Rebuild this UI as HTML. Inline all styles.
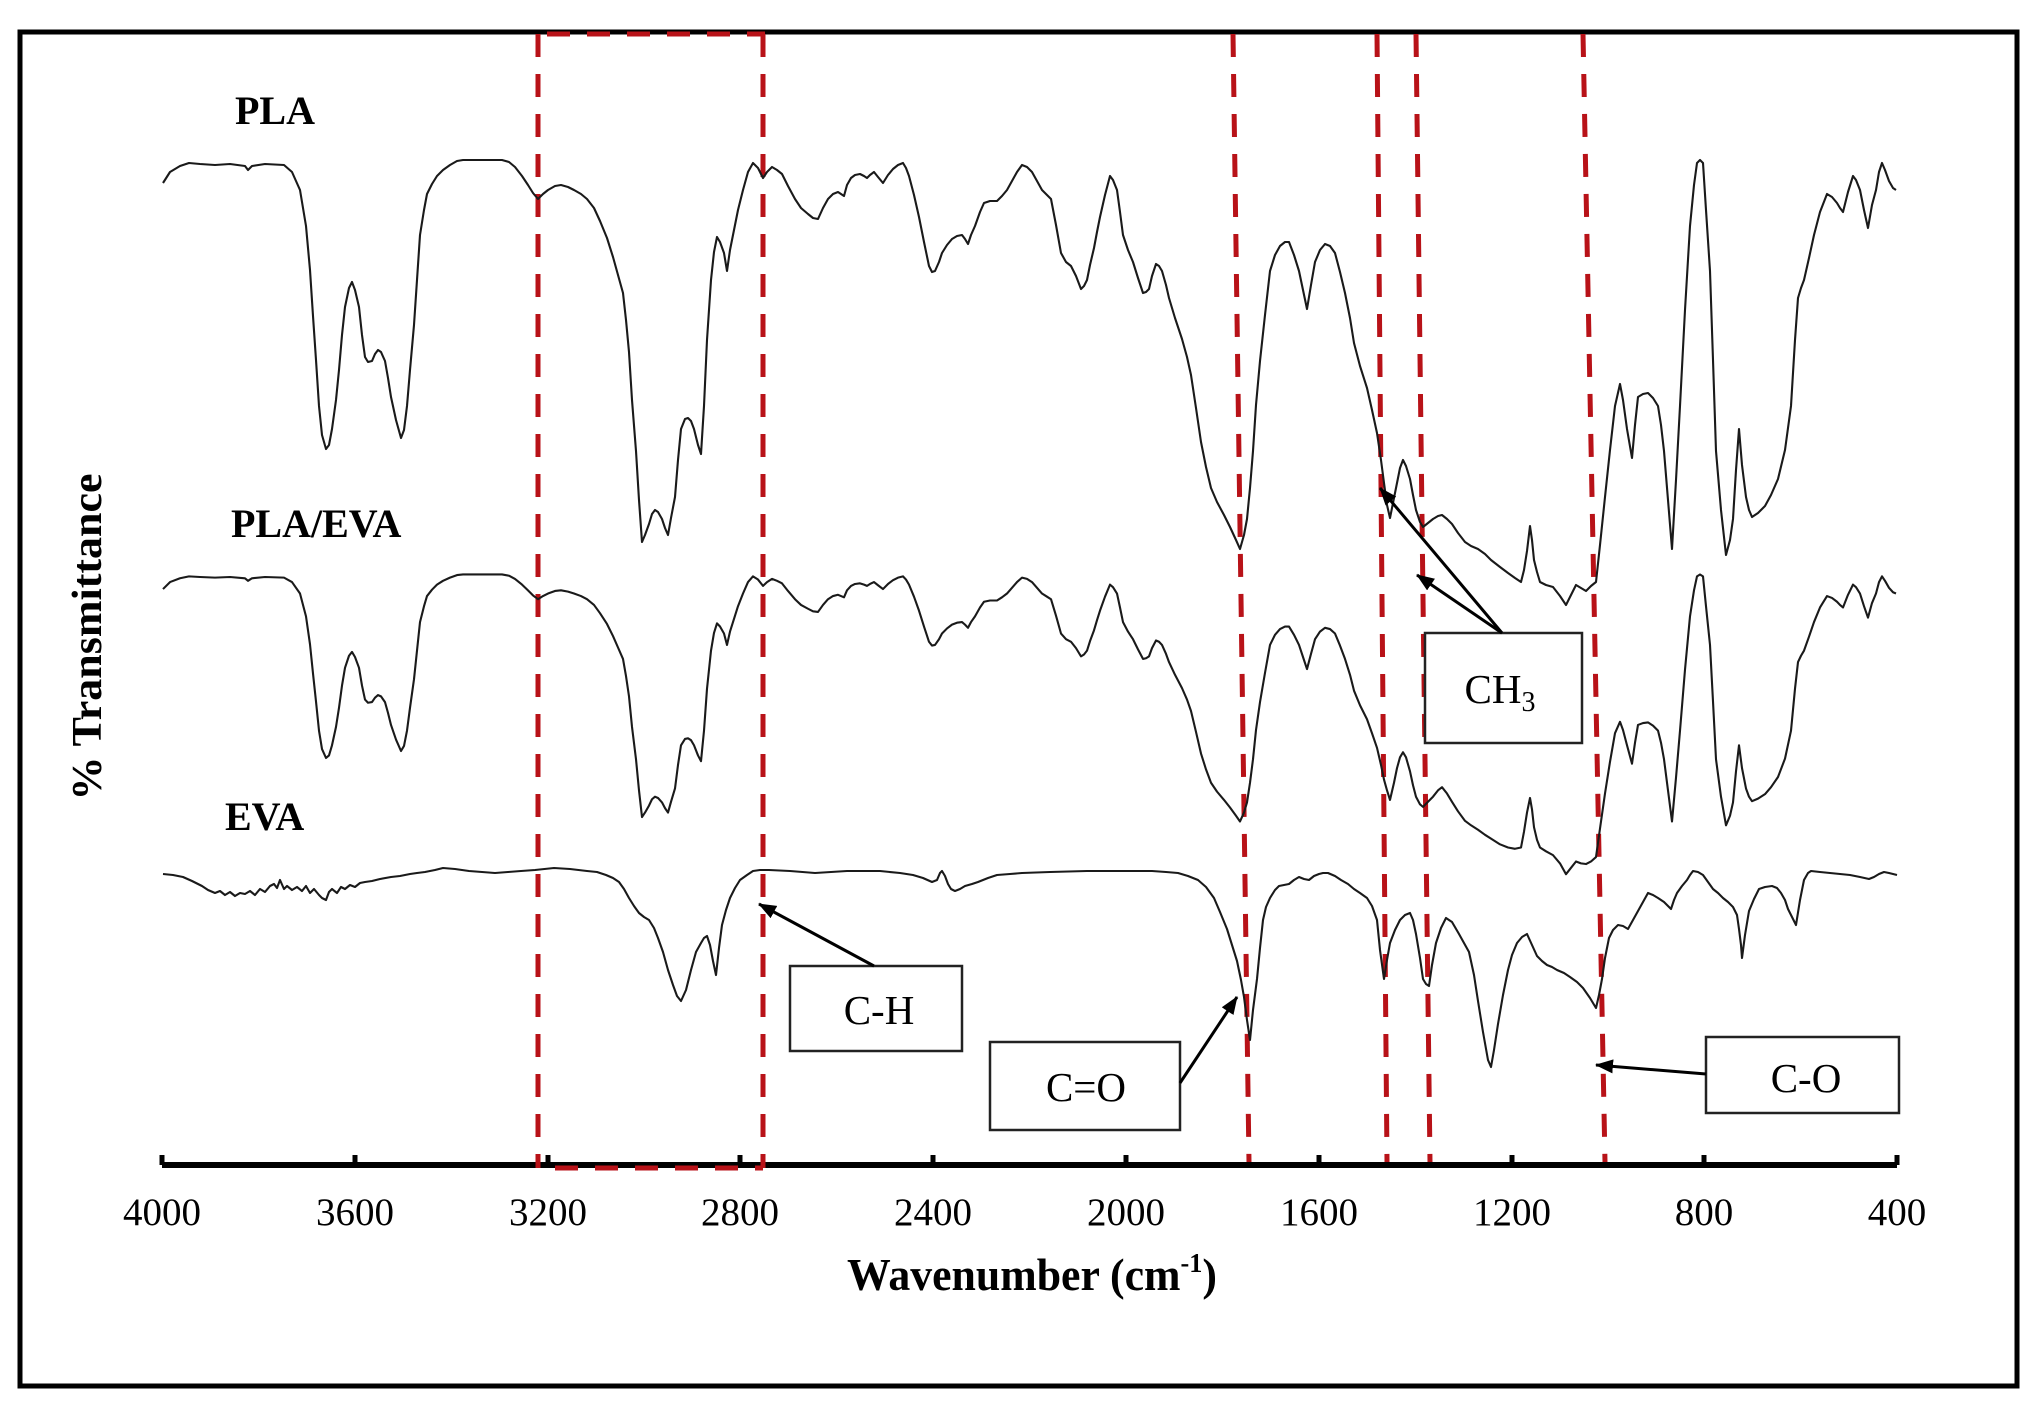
<!DOCTYPE html>
<html><head><meta charset="utf-8"><style>
html,body{margin:0;padding:0;background:#fff;}
svg{display:block;}
text{font-family:"Liberation Serif","DejaVu Serif",serif;fill:#000;}
</style></head><body>
<svg width="2044" height="1416" viewBox="0 0 2044 1416" xmlns="http://www.w3.org/2000/svg">
<defs>
<marker id="ah" viewBox="0 0 18 14" refX="17" refY="7" markerWidth="18" markerHeight="14" orient="auto" markerUnits="userSpaceOnUse">
<path d="M0,0 L18,7 L0,14 z" fill="#000"/>
</marker>
</defs>
<rect x="0" y="0" width="2044" height="1416" fill="#fff"/>
<rect x="20" y="32" width="1997" height="1354" fill="none" stroke="#000" stroke-width="5"/>

<!-- axis -->
<line x1="162" y1="1165" x2="1897" y2="1165" stroke="#000" stroke-width="6"/>
<g stroke="#000" stroke-width="5">
<line x1="162" y1="1155" x2="162" y2="1165"/><line x1="355" y1="1155" x2="355" y2="1165"/>
<line x1="548" y1="1155" x2="548" y2="1165"/><line x1="740" y1="1155" x2="740" y2="1165"/>
<line x1="933" y1="1155" x2="933" y2="1165"/><line x1="1126" y1="1155" x2="1126" y2="1165"/>
<line x1="1319" y1="1155" x2="1319" y2="1165"/><line x1="1512" y1="1155" x2="1512" y2="1165"/>
<line x1="1704" y1="1155" x2="1704" y2="1165"/><line x1="1897" y1="1155" x2="1897" y2="1165"/>
</g>
<g font-size="39" text-anchor="middle">
<text x="162" y="1225">4000</text><text x="355" y="1225">3600</text><text x="548" y="1225">3200</text>
<text x="740" y="1225">2800</text><text x="933" y="1225">2400</text><text x="1126" y="1225">2000</text>
<text x="1319" y="1225">1600</text><text x="1512" y="1225">1200</text><text x="1704" y="1225">800</text>
<text x="1897" y="1225">400</text>
</g>
<text x="847" y="1290" font-size="45" font-weight="bold" textLength="370" lengthAdjust="spacingAndGlyphs">Wavenumber (cm<tspan font-size="27" dy="-18">-1</tspan><tspan dy="18">)</tspan></text>
<text transform="translate(101,637) rotate(-90)" font-size="42" font-weight="bold" text-anchor="middle" textLength="327" lengthAdjust="spacingAndGlyphs">% Transmittance</text>

<!-- series labels -->
<g font-size="40" font-weight="bold">
<text x="235" y="124">PLA</text>
<text x="231" y="537">PLA/EVA</text>
<text x="225" y="830">EVA</text>
</g>

<!-- red dashed lines -->
<g stroke="#b81218" stroke-width="5" stroke-dasharray="23,17" fill="none">
<line x1="538" y1="34" x2="538" y2="1168"/>
<line x1="763" y1="34" x2="763" y2="1168"/>
<line x1="547" y1="34" x2="765" y2="34"/>
<line x1="555" y1="1168" x2="763" y2="1168"/>
<line x1="1233" y1="34" x2="1249" y2="1162"/>
<line x1="1377" y1="34" x2="1387" y2="1162"/>
<line x1="1416" y1="34" x2="1430" y2="1162"/>
<line x1="1583" y1="34" x2="1605" y2="1162"/>
</g>

<!-- PLA -->
<polyline fill="none" stroke="#1a1a1a" stroke-width="2.1" stroke-linejoin="round" points="163,183 170,172 180,166 189,163 200,164 215,165 230,164 245,166 248,170 252,166 265,164 284,165 292,172 300,190 306,226 310,270 313,316 316,360 319,406 322,435 326,449 329,445 332,429 336,400 339,370 342,335 345,307 349,288 352,282 355,290 359,307 362,335 365,357 368,362 372,361 375,354 378,350 381,352 385,361 388,378 391,397 396,420 401,438 404,430 407,406 410,370 414,325 417,280 420,235 424,210 427,194 432,184 437,176 443,170 450,165 457,161 463,160 470,160 476,160 490,160 502,160 509,162 515,167 522,176 528,185 533,193 538,199 543,194 548,190 555,186 561,185 568,187 574,190 581,194 587,199 594,208 600,221 607,238 613,257 618,275 623,293 626,320 629,352 632,400 636,451 639,500 642,542 645,535 649,524 652,514 655,510 658,512 662,519 665,528 668,535 671,518 675,497 678,460 681,429 685,419 688,418 691,421 694,429 698,445 701,454 704,406 707,340 711,280 714,252 717,237 720,242 724,253 727,271 730,250 733,235 738,210 743,190 748,172 753,163 758,168 763,178 767,172 772,167 777,170 782,174 788,186 795,199 801,208 808,214 813,218 818,219 823,208 828,199 833,194 838,192 841,194 844,196 847,185 851,178 855,175 860,174 864,176 867,178 870,175 874,172 878,177 883,183 888,175 893,169 898,165 903,163 906,168 909,176 914,195 919,217 924,242 929,266 932,272 935,271 939,262 942,253 947,245 952,239 957,236 962,235 965,239 968,244 971,235 975,226 980,212 984,203 990,201 997,201 1002,196 1007,190 1012,181 1017,172 1022,165 1027,167 1032,172 1037,181 1042,190 1047,195 1051,199 1056,225 1061,253 1066,262 1071,266 1076,276 1081,289 1084,286 1087,280 1090,265 1094,248 1097,232 1100,217 1105,195 1110,176 1113,180 1117,190 1120,212 1123,235 1128,250 1133,262 1138,278 1143,293 1146,292 1149,289 1152,276 1156,264 1159,266 1162,271 1166,285 1169,298 1175,318 1182,339 1187,357 1191,375 1196,408 1201,442 1206,467 1211,488 1217,502 1224,515 1230,527 1236,540 1240,549 1244,535 1247,519 1250,488 1253,451 1256,405 1260,361 1265,315 1270,271 1275,255 1280,246 1285,242 1289,242 1294,255 1299,271 1303,290 1307,309 1311,285 1315,262 1320,250 1325,244 1330,246 1335,253 1340,272 1345,293 1350,318 1354,343 1360,366 1367,388 1372,410 1377,433 1381,460 1384,483 1387,505 1390,518 1394,498 1397,483 1400,468 1403,460 1406,466 1410,479 1413,495 1416,510 1420,522 1423,527 1428,523 1433,519 1438,516 1442,515 1447,519 1452,524 1458,533 1465,542 1471,546 1478,549 1485,554 1491,560 1500,567 1508,573 1515,578 1521,582 1524,570 1527,551 1530,526 1532,540 1534,560 1537,572 1540,582 1546,585 1553,587 1560,596 1566,605 1571,595 1576,585 1581,588 1586,591 1591,586 1596,582 1600,545 1605,497 1610,450 1615,406 1620,384 1623,400 1627,429 1632,458 1635,425 1638,397 1643,394 1648,393 1653,398 1658,406 1661,425 1664,451 1668,500 1672,549 1676,480 1680,406 1685,310 1690,226 1694,185 1697,163 1700,160 1703,163 1706,210 1710,271 1713,360 1716,451 1721,510 1726,555 1730,540 1733,519 1736,470 1739,429 1742,465 1746,497 1749,510 1752,517 1758,513 1765,506 1771,495 1778,479 1785,450 1791,406 1795,340 1798,298 1801,288 1804,280 1809,258 1814,235 1820,212 1827,194 1832,197 1837,203 1840,208 1843,212 1848,192 1853,176 1856,180 1860,190 1864,210 1868,228 1872,205 1876,190 1879,172 1882,163 1885,170 1889,181 1893,188 1896,190"/>

<!-- PLA/EVA (PLA-shaped, compressed) -->
<g transform="translate(0,577) scale(1,0.635) translate(0,-164)">
<polyline fill="none" stroke="#1a1a1a" stroke-width="2.1" vector-effect="non-scaling-stroke" stroke-linejoin="round" points="163,183 170,172 180,166 189,163 200,164 215,165 230,164 245,166 248,170 252,166 265,164 284,165 292,172 300,190 306,226 310,270 313,316 316,360 319,406 322,435 326,449 329,445 332,429 336,400 339,370 342,335 345,307 349,288 352,282 355,290 359,307 362,335 365,357 368,362 372,361 375,354 378,350 381,352 385,361 388,378 391,397 396,420 401,438 404,430 407,406 410,370 414,325 417,280 420,235 424,210 427,194 432,184 437,176 443,170 450,165 457,161 463,160 470,160 476,160 490,160 502,160 509,162 515,167 522,176 528,185 533,193 538,199 543,194 548,190 555,186 561,185 568,187 574,190 581,194 587,199 594,208 600,221 607,238 613,257 618,275 623,293 626,320 629,352 632,400 636,451 639,500 642,542 645,535 649,524 652,514 655,510 658,512 662,519 665,528 668,535 671,518 675,497 678,460 681,429 685,419 688,418 691,421 694,429 698,445 701,454 704,406 707,340 711,280 714,252 717,237 720,242 724,253 727,271 730,250 733,235 738,210 743,190 748,172 753,163 758,168 763,178 767,172 772,167 777,170 782,174 788,186 795,199 801,208 808,214 813,218 818,219 823,208 828,199 833,194 838,192 841,194 844,196 847,185 851,178 855,175 860,174 864,176 867,178 870,175 874,172 878,177 883,183 888,175 893,169 898,165 903,163 906,168 909,176 914,195 919,217 924,242 929,266 932,272 935,271 939,262 942,253 947,245 952,239 957,236 962,235 965,239 968,244 971,235 975,226 980,212 984,203 990,201 997,201 1002,196 1007,190 1012,181 1017,172 1022,165 1027,167 1032,172 1037,181 1042,190 1047,195 1051,199 1056,225 1061,253 1066,262 1071,266 1076,276 1081,289 1084,286 1087,280 1090,265 1094,248 1097,232 1100,217 1105,195 1110,176 1113,180 1117,190 1120,212 1123,235 1128,250 1133,262 1138,278 1143,293 1146,292 1149,289 1152,276 1156,264 1159,266 1162,271 1166,285 1169,298 1175,318 1182,339 1187,357 1191,375 1196,408 1201,442 1206,467 1211,488 1217,502 1224,515 1230,527 1236,540 1240,549 1244,535 1247,519 1250,488 1253,451 1256,405 1260,361 1265,315 1270,271 1275,255 1280,246 1285,242 1289,242 1294,255 1299,271 1303,290 1307,309 1311,285 1315,262 1320,250 1325,244 1330,246 1335,253 1340,272 1345,293 1350,318 1354,343 1360,366 1367,388 1372,410 1377,433 1381,460 1384,483 1387,500 1390,515 1394,488 1397,465 1400,448 1403,440 1406,448 1410,470 1413,492 1416,510 1420,522 1423,526 1428,518 1433,510 1438,500 1442,495 1447,505 1452,518 1458,533 1465,548 1471,555 1478,562 1485,570 1491,576 1500,585 1508,590 1515,592 1521,590 1524,565 1527,535 1530,512 1532,530 1534,558 1537,578 1540,590 1546,596 1553,602 1560,615 1566,632 1571,622 1576,612 1581,615 1586,616 1591,612 1596,605 1600,560 1605,505 1610,455 1615,410 1620,392 1623,405 1627,429 1632,458 1635,425 1638,397 1643,394 1648,393 1653,398 1658,406 1661,425 1664,451 1668,500 1672,549 1676,480 1680,406 1685,310 1690,226 1694,185 1697,163 1700,160 1703,163 1706,210 1710,271 1713,360 1716,451 1721,510 1726,555 1730,540 1733,519 1736,470 1739,429 1742,465 1746,497 1749,510 1752,517 1758,513 1765,506 1771,495 1778,479 1785,450 1791,406 1795,340 1798,298 1801,288 1804,280 1809,258 1814,235 1820,212 1827,194 1832,197 1837,203 1840,208 1843,212 1848,192 1853,176 1856,180 1860,190 1864,210 1868,228 1872,205 1876,190 1879,172 1882,163 1885,170 1889,181 1893,188 1896,190"/>
</g>

<!-- EVA -->
<polyline fill="none" stroke="#1a1a1a" stroke-width="2.1" stroke-linejoin="round" points="163,874 173,875 183,877 192,881 202,886 208,890 215,893 220,891 225,895 230,892 235,896 240,893 245,894 250,891 255,895 260,889 265,892 270,886 274,884 277,888 280,880 284,889 287,886 292,890 297,887 302,891 306,886 310,893 314,889 319,895 322,898 326,900 329,892 332,889 337,893 341,887 345,889 350,885 355,887 360,883 365,882 372,881 380,879 391,877 400,876 410,874 417,873 425,872 435,870 443,868 455,869 469,871 482,872 495,873 508,872 521,871 535,870 554,868 570,869 587,871 597,872 606,875 613,878 619,882 624,889 629,898 634,906 639,913 644,917 649,920 654,928 658,938 663,952 668,970 673,985 677,996 681,1001 686,990 691,970 696,952 701,943 704,938 707,936 710,945 713,961 716,975 719,948 722,925 726,910 730,898 735,888 740,880 747,875 753,871 760,870 769,870 790,871 815,873 847,871 880,871 900,873 913,875 923,878 932,882 937,880 940,873 942,871 945,876 948,884 951,889 955,891 960,889 965,886 972,884 978,882 988,878 997,875 1010,874 1022,873 1050,872 1087,871 1120,871 1152,871 1166,872 1178,873 1188,876 1198,880 1206,887 1214,898 1220,912 1227,929 1232,945 1237,961 1241,980 1244,997 1247,1020 1250,1040 1253,1010 1257,979 1260,948 1263,920 1266,907 1270,898 1275,890 1279,886 1284,885 1289,884 1294,880 1299,877 1304,879 1309,880 1314,876 1319,874 1323,873 1328,873 1335,876 1341,880 1348,884 1354,889 1360,893 1367,898 1372,906 1377,920 1380,950 1384,979 1387,960 1390,943 1395,930 1400,920 1405,915 1410,913 1413,920 1416,934 1420,958 1423,979 1426,984 1429,986 1432,965 1436,943 1441,928 1446,918 1452,922 1459,934 1464,943 1469,952 1474,975 1478,1001 1483,1032 1488,1060 1491,1067 1494,1050 1498,1024 1503,995 1508,970 1512,955 1517,943 1522,937 1527,934 1532,945 1537,956 1542,961 1547,965 1552,967 1557,970 1564,973 1570,977 1577,982 1583,988 1590,998 1596,1008 1599,995 1602,979 1605,958 1609,938 1613,930 1618,925 1623,926 1628,929 1633,920 1638,911 1643,902 1648,893 1653,895 1658,898 1661,900 1664,902 1668,906 1671,909 1674,900 1677,893 1682,886 1687,880 1690,875 1693,871 1698,872 1703,875 1708,882 1713,889 1718,893 1723,898 1728,902 1733,907 1737,915 1739,929 1741,945 1742,958 1745,935 1749,911 1754,899 1759,889 1765,887 1772,886 1777,888 1781,893 1785,900 1788,909 1792,917 1796,925 1800,900 1804,880 1808,873 1811,871 1820,872 1830,873 1840,874 1850,875 1860,877 1869,879 1874,877 1879,874 1884,872 1889,873 1893,874 1897,875"/>

<!-- annotation boxes -->
<g fill="#fff" stroke="#222" stroke-width="2.5">
<rect x="790" y="966" width="172" height="85"/>
<rect x="990" y="1042" width="190" height="88"/>
<rect x="1706" y="1037" width="193" height="76"/>
<rect x="1425" y="633" width="157" height="110"/>
</g>
<g font-size="41" text-anchor="middle">
<text x="879" y="1024">C-H</text>
<text x="1086" y="1101">C=O</text>
<text x="1806" y="1092">C-O</text>
<text x="1500" y="703">CH<tspan font-size="28" dy="8">3</tspan></text>
</g>

<!-- arrows -->
<g stroke="#000" stroke-width="3" fill="none" marker-end="url(#ah)">
<line x1="874" y1="966" x2="759" y2="904"/>
<line x1="1180" y1="1083" x2="1237" y2="997"/>
<line x1="1706" y1="1074" x2="1596" y2="1065"/>
<line x1="1502" y1="633" x2="1380" y2="488"/>
<line x1="1502" y1="633" x2="1417" y2="575"/>
</g>
</svg>
</body></html>
